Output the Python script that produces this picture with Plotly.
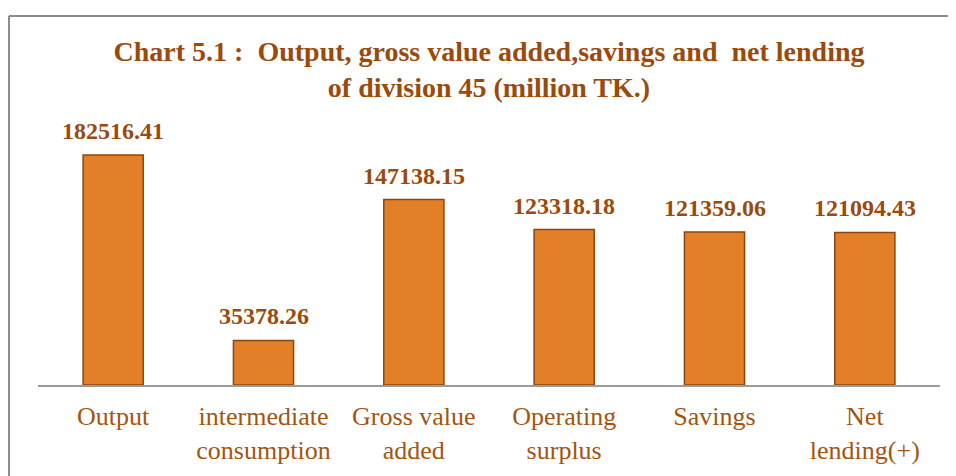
import plotly.graph_objects as go

categories = ["Output", "intermediate consumption", "Gross value added",
              "Operating surplus", "Savings", "Net lending(+)"]
tick_labels = ["Output", "intermediate<br>consumption", "Gross value<br>added",
               "Operating<br>surplus", "Savings", "Net<br>lending(+)"]
values = [182516.41, 35378.26, 147138.15, 123318.18, 121359.06, 121094.43]

TITLE = "Chart 5.1 :  Output, gross value added,savings and  net lending<br>of division 45 (million TK.)"
SERIF = "Liberation Serif"
BROWN = "#9A4A0C"
LABEL = "#A5540F"

# page body has an 8px margin, so the figure is drawn offset by 8px
W, H = 948, 468
ml, mr, mt, mb = 30, 16, 92, 91
pw, ph = W - ml - mr, H - mt - mb

fig = go.Figure()
fig.add_trace(go.Bar(
    x=categories, y=values, width=0.4,
    marker=dict(color="#E37F27", line=dict(color="#8A4512", width=1.5)),
    hoverinfo="x+y",
))

annotations = [
    dict(x=c, y=v, xref="x", yref="y", text=f"{v:.2f}", showarrow=False,
         yanchor="bottom", yshift=9,
         font=dict(family=SERIF, size=24, color=BROWN, weight="bold"))
    for c, v in zip(categories, values)
]

# outer frame: only left and top edges are visible in the picture
fx0 = (1 - ml) / pw
fx1 = (W + 40 - ml) / pw
fy_top = (H - mb - 8) / ph
fy_bot = -(mb + 40) / ph
frame = [
    dict(type="line", xref="paper", yref="paper", x0=fx0, x1=fx1, y0=fy_top, y1=fy_top,
         line=dict(color="#8c8c8c", width=2), layer="below"),
    dict(type="line", xref="paper", yref="paper", x0=fx0, x1=fx0, y0=fy_bot, y1=fy_top,
         line=dict(color="#8c8c8c", width=2), layer="below"),
]

fig.update_layout(
    width=W, height=H,
    margin=dict(l=ml, r=mr, t=mt, b=mb),
    paper_bgcolor="white", plot_bgcolor="white",
    showlegend=False,
    title=dict(text=TITLE, x=0.5, xref="paper", xanchor="center",
               y=1 - 53 / H, yref="container", yanchor="top",
               font=dict(family=SERIF, size=28, color=BROWN, weight="bold")),
    annotations=annotations,
    xaxis=dict(tickvals=categories, ticktext=tick_labels, showline=True,
               linecolor="#9a9a9a", linewidth=2, ticks="", showgrid=False,
               ticklabelstandoff=7, automargin=False,
               tickfont=dict(family=SERIF, size=26, color=LABEL)),
    yaxis=dict(range=[0, 182516.41 * 285 / 230], visible=False, showgrid=False,
               zeroline=False, automargin=False),
    shapes=frame,
)

fig.write_html("out.html")
